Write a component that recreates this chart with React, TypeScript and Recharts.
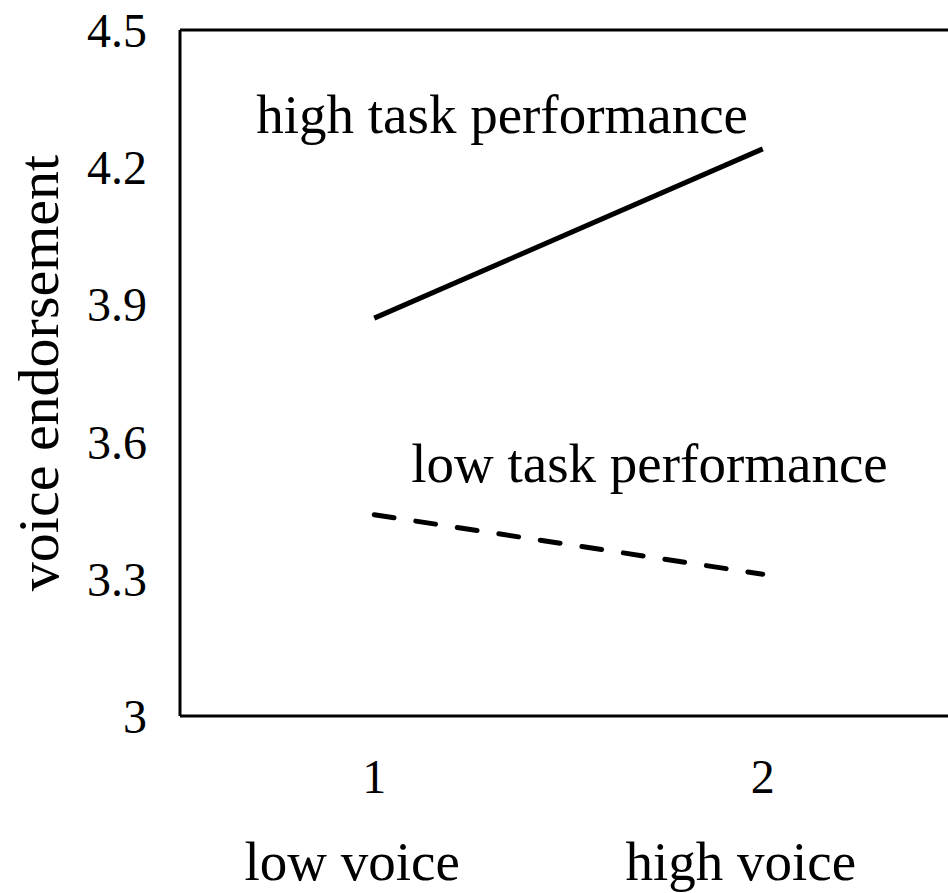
import { LineChart, Line, XAxis, YAxis, ReferenceLine } from "recharts"

// voice level on the x axis, endorsement means per task performance group
const voiceLevels = [1, 2]
const voiceNames = ["low voice", "high voice"]
const highTask = [3.87, 4.24]
const lowTask = [3.44, 3.31]
const yTicks = [3, 3.3, 3.6, 3.9, 4.2, 4.5]
const seriesNames = ["high task performance", "low task performance"]

const data = voiceLevels.map((v, i) => ({ voice: v, high: highTask[i], low: lowTask[i] }))

const FONT = '"Liberation Serif", "Times New Roman", serif'

function VoiceTick({ x, y, payload }: any) {
  const idx = voiceLevels.indexOf(payload.value)
  return (
    <g>
      <text x={x} y={y + 77} textAnchor="middle" fontSize={48} fill="#000">
        {payload.value}
      </text>
      <text x={x - 22} y={y + 164} textAnchor="middle" fontSize={55} fill="#000">
        {voiceNames[idx]}
      </text>
    </g>
  )
}

function seriesLabel(name: string, dx: number, dy: number) {
  return (props: any) => {
    if (props.index !== 0) return null
    return (
      <text x={props.x + dx} y={props.y + dy} fontSize={55} fill="#000">
        {name}
      </text>
    )
  }
}

export default function App() {
  return (
    <div style={{ position: "absolute", left: 0, top: 0, width: 948, height: 893, overflow: "hidden", background: "#fff", fontFamily: FONT }}>
      <LineChart width={980} height={893} data={data} margin={{ top: 30, right: 23, left: 0, bottom: 0 }}>
        <XAxis
          dataKey="voice"
          type="number"
          domain={[0.5, 2.5]}
          ticks={voiceLevels}
          height={177}
          tickLine={false}
          tickSize={0}
          tickMargin={0}
          axisLine={{ stroke: "#000", strokeWidth: 3 }}
          tick={<VoiceTick />}
        />
        <YAxis
          type="number"
          domain={[3, 4.5]}
          ticks={yTicks}
          width={180}
          tickLine={false}
          tickSize={0}
          tickMargin={33}
          axisLine={{ stroke: "#000", strokeWidth: 3 }}
          tick={{ fill: "#000", fontSize: 48 }}
          label={(props: any) => {
            const vb = props.viewBox
            const cx = vb.x + 58
            const cy = vb.y + vb.height / 2
            return (
              <text x={cx} y={cy} transform={`rotate(-90, ${cx}, ${cy})`} textAnchor="middle" fontSize={58} fill="#000">
                voice endorsement
              </text>
            )
          }}
        />
        <ReferenceLine y={4.5} stroke="#000" strokeWidth={3} />
        <ReferenceLine x={2.5} stroke="#000" strokeWidth={3} />
        <Line
          dataKey="high"
          stroke="#000"
          strokeWidth={5}
          dot={false}
          isAnimationActive={false}
          label={seriesLabel(seriesNames[0], -118, -185)}
        />
        <Line
          dataKey="low"
          stroke="#000"
          strokeWidth={5}
          strokeDasharray="20 22"
          strokeLinecap="round"
          dot={false}
          isAnimationActive={false}
          label={seriesLabel(seriesNames[1], 37, -33)}
        />
      </LineChart>
    </div>
  )
}
